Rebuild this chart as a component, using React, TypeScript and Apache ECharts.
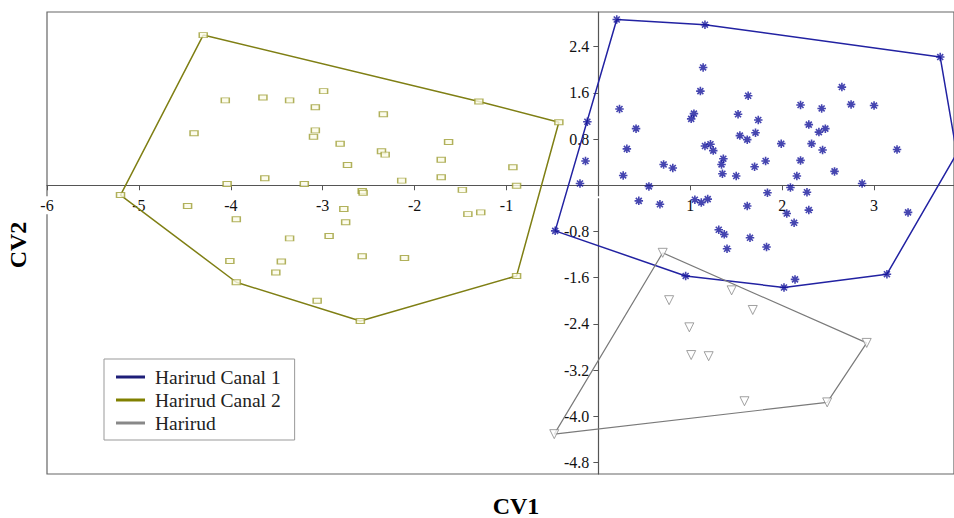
import React, { useEffect, useRef } from "react";
import * as echarts from "echarts";

// ---- data ----
const xTickValues = [-6, -5, -4, -3, -2, -1, 0, 1, 2, 3];
const yTickValues = [-4.8, -4.0, -3.2, -2.4, -1.6, -0.8, 0, 0.8, 1.6, 2.4];

const seriesNames = ["Harirud Canal 1", "Harirud Canal 2", "Harirud"];

const canal1Hull: [number, number][] = [
  [0.2, 2.87], [1.16, 2.78], [3.72, 2.22], [3.9, 0.55],
  [3.14, -1.54], [2.02, -1.77], [0.95, -1.57], [-0.47, -0.79],
];
const canal1Points: [number, number][] = [
  [0.23, 1.32], [-0.12, 1.1], [0.41, 0.98], [0.31, 0.63], [-0.14, 0.42],
  [0.27, 0.17], [-0.2, 0.03], [0.55, -0.02], [0.44, -0.27], [0.67, -0.33],
  [0.71, 0.36], [0.81, 0.3], [1.14, 2.04], [1.11, 1.63], [1.04, 1.24],
  [1.01, 1.15], [1.16, 0.68], [1.22, 0.71], [1.25, 0.6], [1.36, 0.46],
  [1.34, 0.36], [1.35, 0.2], [1.5, 0.16], [1.52, 1.23], [1.63, 1.55],
  [1.74, 1.13], [1.54, 0.86], [1.62, 0.79], [1.71, 0.91], [1.7, 0.32],
  [1.82, 0.42], [1.84, -0.13], [1.62, -0.36], [1.05, -0.25], [1.12, -0.3],
  [1.19, -0.24], [1.31, -0.77], [1.37, -0.85], [1.4, -1.1], [1.65, -0.91],
  [1.83, -1.07], [2.14, -1.63], [1.99, 0.72], [2.09, -0.04], [2.05, -0.49],
  [2.13, -0.65], [2.2, 1.39], [2.16, 0.16], [2.2, 0.43], [2.29, 1.05],
  [2.32, 0.72], [2.27, -0.12], [2.29, -0.43], [2.43, 1.33], [2.4, 0.92],
  [2.47, 0.98], [2.44, 0.61], [2.57, 0.24], [2.65, 1.7], [2.75, 1.4],
  [3.0, 1.38], [2.87, 0.03], [3.25, 0.62], [3.37, -0.47],
];

const canal2Hull: [number, number][] = [
  [-4.3, 2.6], [-1.3, 1.45], [-0.43, 1.09], [-0.89, -1.57],
  [-2.59, -2.35], [-3.94, -1.68], [-5.2, -0.17],
];
const canal2Points: [number, number][] = [
  [-4.06, 1.47], [-3.65, 1.52], [-3.36, 1.47], [-2.99, 1.63], [-3.08, 1.35],
  [-4.4, 0.9], [-3.08, 0.95], [-3.1, 0.84], [-2.81, 0.72], [-2.73, 0.35],
  [-3.63, 0.12], [-4.04, 0.02], [-3.2, 0.02], [-4.47, -0.36], [-3.94, -0.59],
  [-2.77, -0.41], [-2.75, -0.64], [-2.57, -0.1], [-2.56, -0.13], [-2.34, 1.23],
  [-2.36, 0.59], [-2.32, 0.53], [-2.14, 0.08], [-1.63, 0.75], [-1.71, 0.44],
  [-1.71, 0.14], [-0.93, 0.31], [-0.89, -0.01], [-1.48, -0.08], [-1.42, -0.5],
  [-1.28, -0.47], [-3.36, -0.92], [-2.93, -0.88], [-4.01, -1.31], [-3.45, -1.32],
  [-3.51, -1.51], [-2.57, -1.23], [-2.11, -1.26], [-3.06, -2.0],
];

const harirudHull: [number, number][] = [
  [0.7, -1.17], [2.92, -2.73], [2.49, -3.76], [-0.48, -4.31],
];
const harirudPoints: [number, number][] = [
  [0.77, -1.99], [1.45, -1.82], [1.68, -2.16], [0.99, -2.46],
  [1.01, -2.94], [1.2, -2.96], [1.59, -3.74],
];

// ---- layout / styles ----
const FONT = "'Liberation Serif', 'DejaVu Serif', serif";
const C1 = "#2222a2";
const C2 = "#7f7f14";
const C3 = "#7a7a7a";
const ASTERISK =
  "path://M5,0L5,10M0,5L10,5M1.5,1.5L8.5,8.5M1.5,8.5L8.5,1.5";

const GRID = { left: 47, right: 0, top: 12, bottom: 44 };
const W = 954;
const H = 518;
const X_MIN = -6;
const X_MAX = 3.87;
const Y_MIN = -5;
const Y_MAX = 3;

const closed = (h: [number, number][]) => [...h, h[0]];

export default function App() {
  const ref = useRef<HTMLDivElement>(null);

  useEffect(() => {
    document.body.style.margin = "0";
    if (!ref.current) return;
    const chart = echarts.init(ref.current, undefined, { renderer: "svg" });

    const plotW = W - GRID.left - GRID.right;
    const plotH = H - GRID.top - GRID.bottom;
    // offsets that move the axes from the grid edges onto the zero lines
    const xAxisOffset = -((0 - Y_MIN) / (Y_MAX - Y_MIN)) * plotH;
    const yAxisOffset = -((0 - X_MIN) / (X_MAX - X_MIN)) * plotW;

    const axisLabelCommon = {
      fontFamily: FONT,
      fontSize: 16,
      color: "#111",
      backgroundColor: "#fff",
    };

    chart.setOption({
      animation: false,
      backgroundColor: "#fff",
      grid: {
        ...GRID,
        show: true,
        borderColor: "#666",
        borderWidth: 1.2,
        containLabel: false,
      },
      xAxis: {
        type: "value",
        min: X_MIN,
        max: X_MAX,
        position: "bottom",
        offset: xAxisOffset,
        splitLine: { show: false },
        axisLine: { onZero: false, lineStyle: { color: "#555", width: 1.2 } },
        axisTick: { show: true, length: 5, customValues: xTickValues, lineStyle: { color: "#555" } },
        axisLabel: {
          ...axisLabelCommon,
          customValues: xTickValues,
          margin: 11,
          padding: [1, 2],
          formatter: (v: number) => (v === 0 ? "" : String(v)),
        },
      },
      yAxis: {
        type: "value",
        min: Y_MIN,
        max: Y_MAX,
        position: "left",
        offset: yAxisOffset,
        splitLine: { show: false },
        axisLine: { onZero: false, lineStyle: { color: "#555", width: 1.2 } },
        axisTick: { show: true, length: 5, customValues: yTickValues, lineStyle: { color: "#555" } },
        axisLabel: {
          ...axisLabelCommon,
          customValues: yTickValues,
          margin: 7,
          padding: [0, 2],
          formatter: (v: number) => (v === 0 ? "" : v.toFixed(1)),
        },
      },
      legend: {
        orient: "vertical",
        left: 104,
        top: 359,
        padding: [8, 14, 7, 12],
        itemGap: 3,
        itemWidth: 29,
        itemHeight: 3,
        borderColor: "#999",
        borderWidth: 1,
        backgroundColor: "#fff",
        textStyle: { fontFamily: FONT, fontSize: 19.5, color: "#222", padding: [0, 0, 0, 5] },
        data: [
          { name: seriesNames[0], icon: "rect", itemStyle: { color: "#1e1e78" } },
          { name: seriesNames[1], icon: "rect", itemStyle: { color: "#808000" } },
          { name: seriesNames[2], icon: "rect", itemStyle: { color: "#888888" } },
        ],
      },
      graphic: [
        {
          type: "text",
          x: 516,
          y: 506,
          style: {
            text: "CV1",
            fontFamily: FONT,
            fontWeight: "bold",
            fontSize: 24,
            fill: "#000",
            textAlign: "center",
            textVerticalAlign: "middle",
          },
        },
        {
          type: "text",
          x: 18,
          y: 245,
          rotation: Math.PI / 2,
          style: {
            text: "CV2",
            fontFamily: FONT,
            fontWeight: "bold",
            fontSize: 24,
            fill: "#000",
            textAlign: "center",
            textVerticalAlign: "middle",
          },
        },
      ],
      series: [
        {
          name: seriesNames[0],
          type: "line",
          data: closed(canal1Hull),
          color: C1,
          showSymbol: false,
          lineStyle: { color: C1, width: 1.5 },
          z: 3,
        },
        {
          name: seriesNames[1],
          type: "line",
          data: closed(canal2Hull),
          color: C2,
          showSymbol: false,
          lineStyle: { color: C2, width: 1.5 },
          z: 3,
        },
        {
          name: seriesNames[2],
          type: "line",
          data: closed(harirudHull),
          color: C3,
          showSymbol: false,
          lineStyle: { color: C3, width: 1.2 },
          z: 3,
        },
        {
          name: "canal1-points",
          type: "scatter",
          data: [...canal1Hull, ...canal1Points],
          symbol: ASTERISK,
          symbolSize: 8.5,
          itemStyle: { color: "#16169c", borderColor: "#16169c", borderWidth: 1.6 },
          z: 4,
        },
        {
          name: "canal2-points",
          type: "scatter",
          data: [...canal2Hull, ...canal2Points],
          symbol: "rect",
          symbolSize: [8, 5],
          itemStyle: { color: "#fbfbe8", borderColor: "#9d9d35", borderWidth: 1.2 },
          z: 4,
        },
        {
          name: "harirud-points",
          type: "scatter",
          data: [...harirudHull, ...harirudPoints],
          symbol: "triangle",
          symbolRotate: 180,
          symbolSize: 9,
          itemStyle: { color: "#fff", borderColor: "#8a8a8a", borderWidth: 1 },
          z: 4,
        },
      ],
    });

    return () => chart.dispose();
  }, []);

  return <div ref={ref} style={{ width: W, height: H }} />;
}
